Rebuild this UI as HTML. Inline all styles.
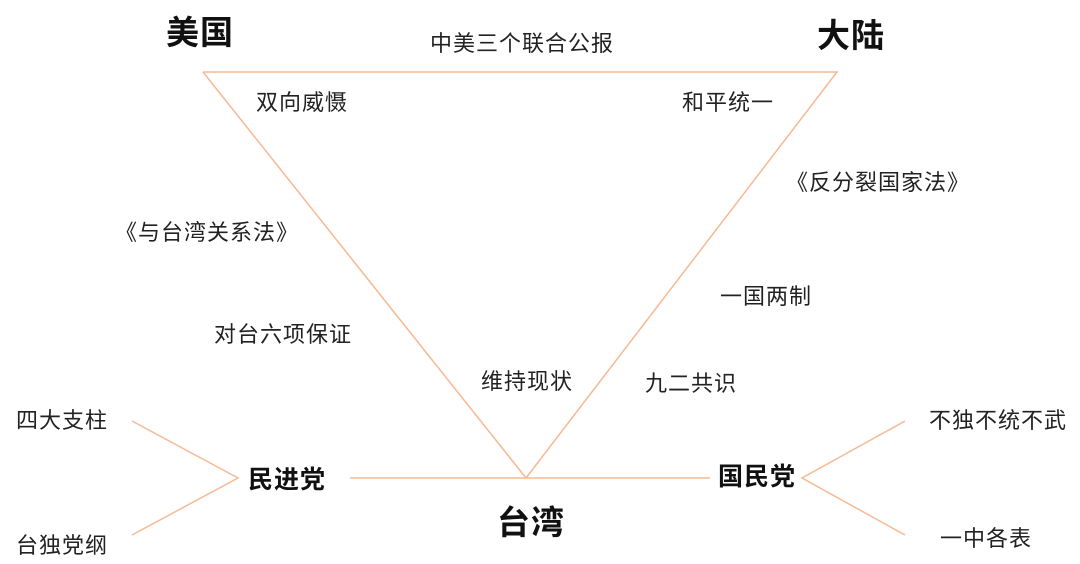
<!DOCTYPE html>
<html><head><meta charset="utf-8"><style>
body{margin:0;width:1080px;height:564px;background:#fff;position:relative;overflow:hidden;font-family:"Liberation Sans","Noto Sans CJK SC",sans-serif;color:#222}
.t{position:absolute;font-size:22px;line-height:24px;letter-spacing:1px;white-space:nowrap}
.b{position:absolute;font-weight:bold;font-size:33px;line-height:36px;letter-spacing:1px;white-space:nowrap;color:#111}
.m{position:absolute;font-weight:bold;font-size:25px;line-height:28px;letter-spacing:1px;white-space:nowrap;color:#111}
svg{position:absolute;left:0;top:0}
</style></head><body>
<svg width="1080" height="564"><g stroke="#f6b993" stroke-width="1.5" fill="none">
<polyline points="203,72 837,72 526,478 203,72"/>
<line x1="350" y1="478" x2="710" y2="478"/>
<polyline points="132,421 238,478 132,535"/>
<polyline points="905,421 802,478 905,535"/>
</g></svg>
<div class="b" style="left:166px;top:15px">美国</div>
<div class="b" style="left:817px;top:18px">大陆</div>
<div class="b" style="left:497px;top:505px">台湾</div>
<div class="m" style="left:248px;top:466px">民进党</div>
<div class="m" style="left:718px;top:463px">国民党</div>
<div class="t" style="left:430px;top:32px">中美三个联合公报</div>
<div class="t" style="left:256px;top:91px">双向威慑</div>
<div class="t" style="left:682px;top:91px">和平统一</div>
<div class="t" style="left:786px;top:171px">《反分裂国家法》</div>
<div class="t" style="left:115px;top:221px">《与台湾关系法》</div>
<div class="t" style="left:720px;top:285px">一国两制</div>
<div class="t" style="left:214px;top:323px">对台六项保证</div>
<div class="t" style="left:481px;top:370px">维持现状</div>
<div class="t" style="left:645px;top:372px">九二共识</div>
<div class="t" style="left:16px;top:409px">四大支柱</div>
<div class="t" style="left:16px;top:534px">台独党纲</div>
<div class="t" style="left:929px;top:409px">不独不统不武</div>
<div class="t" style="left:940px;top:527px">一中各表</div>
</body></html>
